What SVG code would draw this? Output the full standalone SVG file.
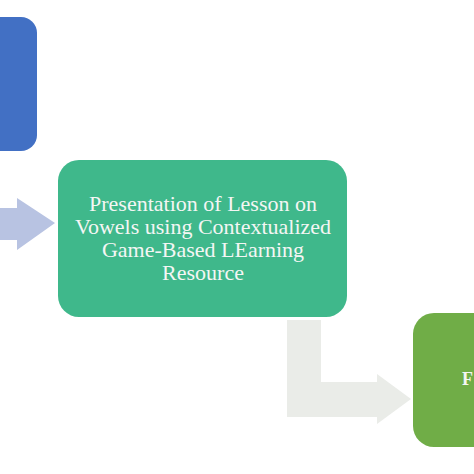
<svg xmlns="http://www.w3.org/2000/svg" width="474" height="474" viewBox="0 0 474 474">
<style>
.lbl{font-family:"Liberation Serif","Times New Roman",serif;fill:#F4F6F4;text-anchor:middle;font-size:22px}
</style>
<rect width="474" height="474" fill="#FFFFFF"/>
<g id="connectors">
<polygon points="0,208 17,208 17,198 55,223 17,250 17,240 0,240" fill="#B8C3E2"/>
<polygon points="287,320 321,320 321,382 377,382 377,374 411,399 377,424 377,417 287,417" fill="#EAECE8"/>
</g>
<g id="node-blue">
<rect x="-30" y="17" width="67" height="134" rx="16" fill="#4270C4"/>
</g>
<g id="node-presentation">
<rect x="58" y="160" width="289" height="157" rx="21" fill="#3FB88B"/>
<text class="lbl" x="203" y="211">Presentation of Lesson on</text>
<text class="lbl" x="203" y="234">Vowels using Contextualized</text>
<text class="lbl" x="203" y="257">Game-Based LEarning</text>
<text class="lbl" x="203" y="280">Resource</text>
</g>
<g id="node-green">
<rect x="413" y="313" width="100" height="134" rx="21" fill="#70AD47"/>
<text x="462" y="385" font-family="'Liberation Serif','Times New Roman',serif" font-size="18" font-weight="bold" fill="#F4F6F4">F</text>
</g>
</svg>
